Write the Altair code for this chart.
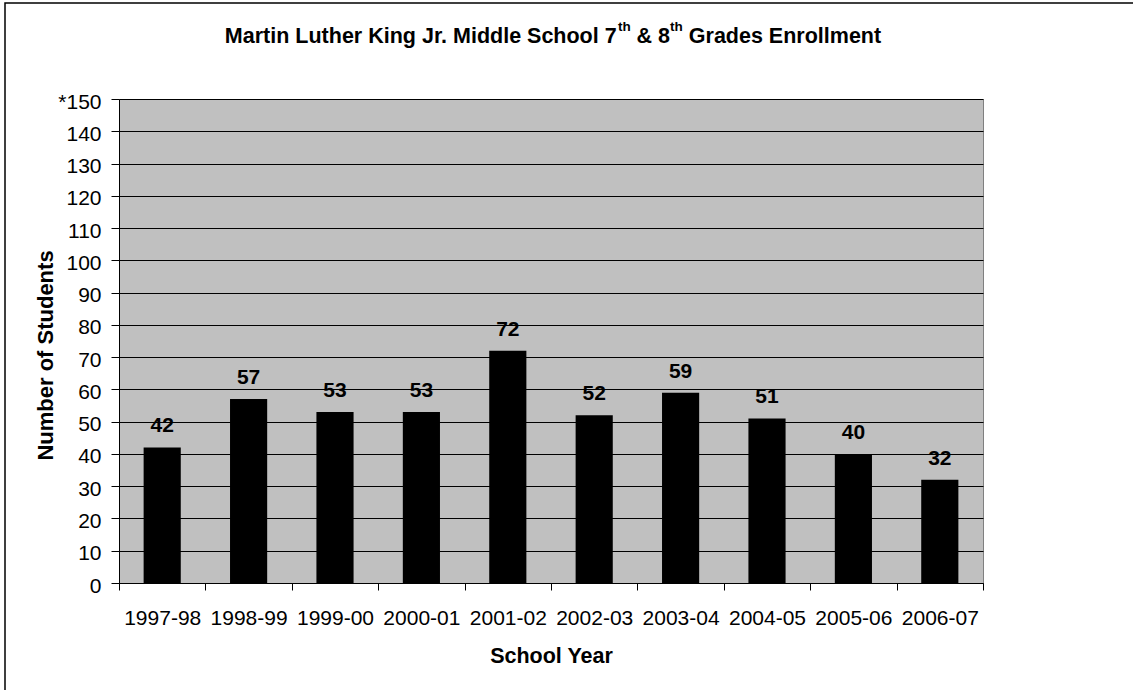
import altair as alt
import pandas as pd

# ---- data ----
years = ["1997-98", "1998-99", "1999-00", "2000-01", "2001-02",
         "2002-03", "2003-04", "2004-05", "2005-06", "2006-07"]
students = [42, 57, 53, 53, 72, 52, 59, 51, 40, 32]
y_ticks = list(range(0, 151, 10))

title_parts = ["Martin Luther King Jr. Middle School 7", " & 8", " Grades Enrollment"]
title_sup = "th"

df = pd.DataFrame({"year": years, "students": students})

FONT = "Liberation Sans"
W, H = 864, 484
PAD = {"left": 119, "top": 99, "right": 150, "bottom": 107}

# Arial/Liberation Sans Bold advance widths (per 1000 em) for title layout
ADV = {" ": 278, "M": 833, "a": 556, "r": 389, "t": 333, "i": 278, "n": 611, "L": 611,
       "u": 611, "h": 611, "e": 556, "K": 722, "g": 611, "J": 556, ".": 278, "d": 611,
       "l": 278, "S": 667, "c": 556, "o": 611, "7": 556, "&": 722, "8": 556, "G": 778,
       "s": 556, "E": 667, "m": 889}


def tw(s, size):
    return sum(ADV.get(ch, 556) for ch in s) * size / 1000.0


T_SIZE, S_SIZE = 21.5, 13.5
seq = [(title_parts[0], T_SIZE), (title_sup, S_SIZE), (title_parts[1], T_SIZE),
       (title_sup, S_SIZE), (title_parts[2], T_SIZE)]
total = sum(tw(s, z) for s, z in seq)
cx = W / 2 - total / 2 + 2
title_layers = []
one = pd.DataFrame({"k": [0]})
for s, z in seq:
    lead = len(s) - len(s.lstrip(" "))
    xs = cx + tw(" " * lead, z)
    ybase = -56 if z == T_SIZE else -68
    title_layers.append(
        alt.Chart(one).mark_text(align="left", baseline="alphabetic", font=FONT,
                                 fontSize=z, fontWeight="bold", color="black")
        .encode(x=alt.value(xs), y=alt.value(ybase), text=alt.value(s.lstrip(" ")))
    )
    cx += tw(s, z)

x_enc = alt.X(
    "year:N", sort=years, title="School Year",
    scale=alt.Scale(paddingInner=0, paddingOuter=0),
    axis=alt.Axis(labelAngle=0, labelFontSize=21, labelFont=FONT, labelPadding=17,
                  tickSize=7, tickBand="extent", grid=False, labelOverlap=False,
                  titleFont=FONT, titleFontSize=21.5, titleFontWeight="bold",
                  titleX=W / 2, titleY=79, titleAlign="center", titleBaseline="alphabetic"),
)
y_enc = alt.Y(
    "students:Q", title="Number of Students",
    scale=alt.Scale(domain=[0, 150], nice=False),
    axis=alt.Axis(values=y_ticks, labelExpr="datum.value == 150 ? '*150' : datum.label",
                  labelOverlap=False, labelBound=False,
                  labelFontSize=21, labelFont=FONT, labelPadding=10, labelOffset=3,
                  tickSize=8, grid=True, gridColor="black", gridWidth=1,
                  titleFont=FONT, titleFontSize=22, titleFontWeight="bold",
                  titleAngle=270, titleX=-67, titleY=256, titleAlign="center",
                  titleBaseline="alphabetic"),
)

border = alt.Chart(one).mark_rect(fillOpacity=0, stroke="black", strokeWidth=1.5).encode(
    x=alt.value(-114), x2=alt.value(1040), y=alt.value(-96), y2=alt.value(640)
)

bars = alt.Chart(df).mark_bar(color="black", width=alt.RelativeBandSize(0.43)).encode(
    x=x_enc, y=y_enc
)

labels = alt.Chart(df).mark_text(font=FONT, fontSize=21, fontWeight="bold",
                                 baseline="alphabetic", dy=-15, color="black").encode(
    x=x_enc, y=y_enc, text="students:Q"
)

chart = alt.layer(border, bars, labels, *title_layers).properties(
    width=W, height=H, padding=PAD,
    autosize=alt.AutoSizeParams(type="none"), background="white",
).configure_view(
    fill="#C0C0C0", stroke="#808080", strokeWidth=1
).configure_axis(
    domainColor="black", tickColor="black", labelColor="black", titleColor="black"
)

chart.save("out.html", embed_options={"renderer": "svg", "actions": False})
